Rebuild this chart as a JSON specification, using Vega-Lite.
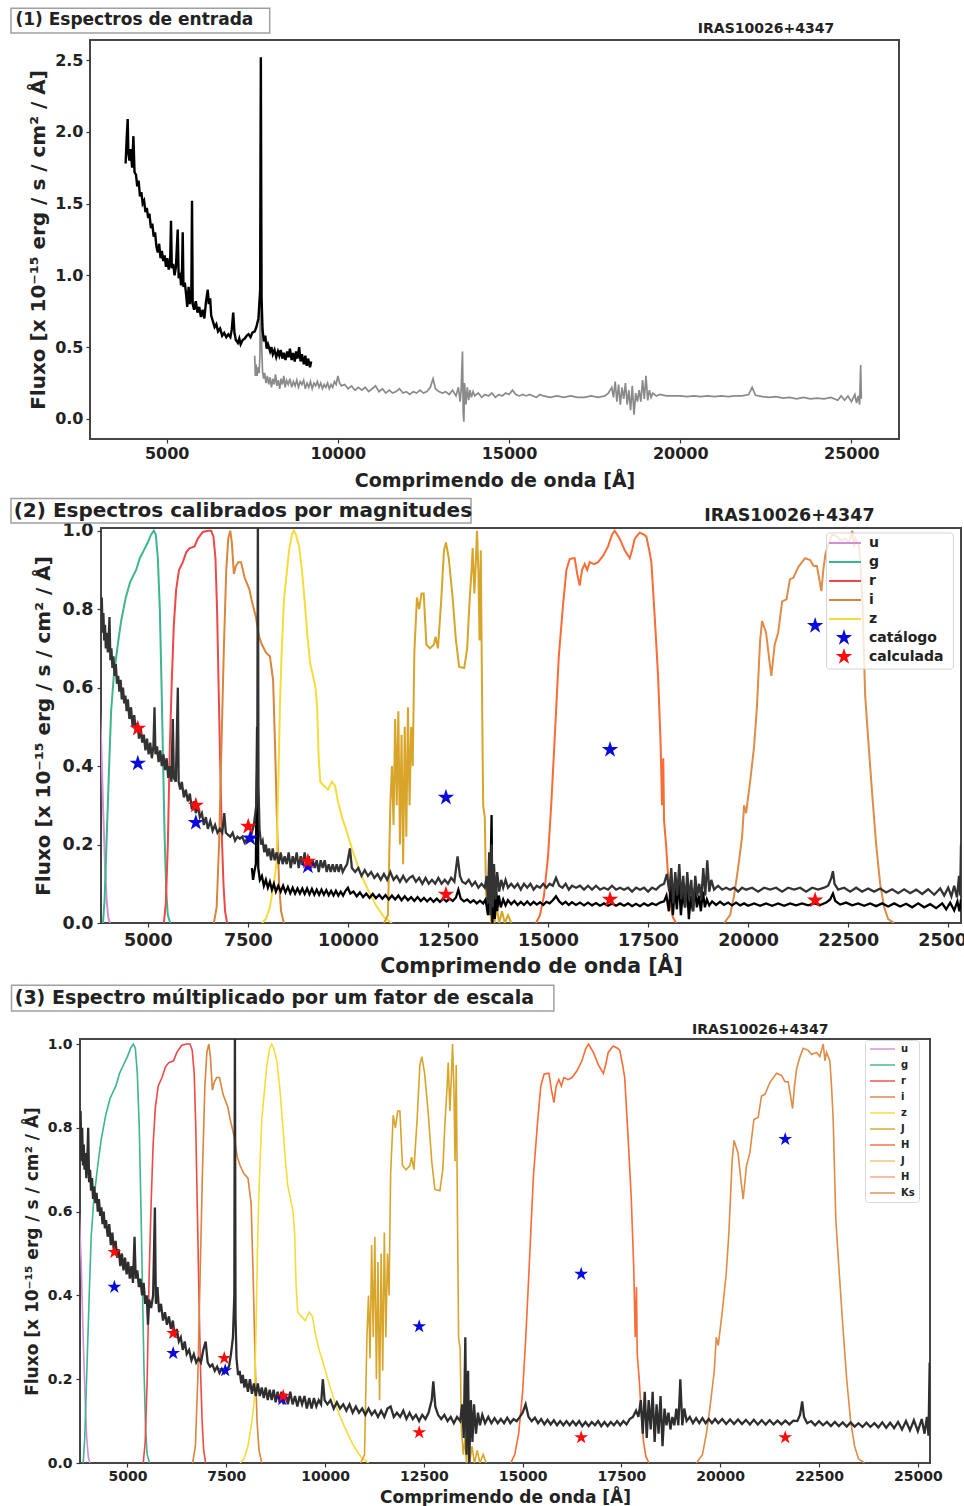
{
  "$schema": "https://vega.github.io/schema/vega-lite/v6.json",
  "padding": {"left": 8, "top": 6, "right": 0, "bottom": 0},
  "config": {
    "font": "DejaVu Sans",
    "view": {"stroke": "#454545", "strokeWidth": 2},
    "axis": {"grid": false, "domain": false, "labelFont": "DejaVu Sans", "labelFontWeight": "bold", "labelColor": "#222", "titleFont": "DejaVu Sans", "titleFontWeight": "bold", "titleColor": "#222", "tickColor": "#333", "tickSize": 4, "tickWidth": 1.2, "labelFlush": false},
    "legend": {"labelFont": "DejaVu Sans", "labelFontWeight": "bold", "labelColor": "#222"}
  },
  "spacing": 5,
  "vconcat": [
    {"spacing": 0, "hconcat": [
    {"width": 1, "height": 1, "view": {"stroke": null}, "data": {"values": [{}]}, "mark": {"type": "text", "text": ""}},
    {
      "width": 809, "height": 399,
      "layer": [
        {"data": {"name": "p1nir"}, "mark": {"type": "line", "color": "#8a8a8a", "strokeWidth": 1.7, "clip": true},
         "encoding": {
           "x": {"field": "w", "type": "quantitative", "scale": {"domain": [2760, 26390], "nice": false, "zero": false},
                 "axis": {"title": "Comprimendo de onda [Å]", "values": [5000, 10000, 15000, 20000, 25000], "format": "d", "labelFontSize": 16, "titleFontSize": 19, "labelPadding": 2, "titlePadding": 10}},
           "y": {"field": "f", "type": "quantitative", "scale": {"domain": [-0.14, 2.64], "nice": false, "zero": false},
                 "axis": {"title": "Fluxo [x 10⁻¹⁵ erg / s / cm² / Å]", "values": [0, 0.5, 1, 1.5, 2, 2.5], "format": ".1f", "labelFontSize": 16, "titleFontSize": 20, "labelPadding": 3, "titlePadding": 6}}
         }},
        {"data": {"name": "p1opt"}, "mark": {"type": "line", "color": "#000000", "strokeWidth": 2.4, "clip": true},
         "encoding": {"x": {"field": "w", "type": "quantitative"}, "y": {"field": "f", "type": "quantitative"}}},
        {"data": {"values": [{}]}, "mark": {"type": "rect", "fill": "white", "stroke": "#a0a0a0", "strokeWidth": 1.5},
         "encoding": {"x": {"datum": 452}, "x2": {"datum": 8009}, "y": {"datum": 2.861}, "y2": {"datum": 2.689}}},
        {"data": {"values": [{}]}, "mark": {"type": "text", "text": "(1) Espectros de entrada", "align": "left", "baseline": "alphabetic", "fontSize": 17, "fontWeight": "bold", "color": "#222"},
         "encoding": {"x": {"datum": 581}, "y": {"datum": 2.745}}},
        {"data": {"values": [{}]}, "mark": {"type": "text", "text": "IRAS10026+4347", "align": "center", "baseline": "alphabetic", "fontSize": 14, "fontWeight": "bold", "color": "#222"},
         "encoding": {"x": {"datum": 22505}, "y": {"datum": 2.692}}}
      ]
    }]},
    {"spacing": 0, "hconcat": [
    {"width": 1, "height": 1, "view": {"stroke": null}, "data": {"values": [{}]}, "mark": {"type": "text", "text": ""}},
    {
      "width": 860, "height": 395,
      "layer": [
        {"data": {"name": "filters"}, "mark": {"type": "line", "strokeWidth": 2, "clip": true},
         "encoding": {
           "x": {"field": "w", "type": "quantitative", "scale": {"domain": [3830, 25320], "nice": false, "zero": false},
                 "axis": {"title": "Comprimendo de onda [Å]", "values": [5000, 7500, 10000, 12500, 15000, 17500, 20000, 22500, 25000], "format": "d", "labelFontSize": 17.5, "titleFontSize": 20.5, "labelPadding": 4, "titlePadding": 8}},
           "y": {"field": "t", "type": "quantitative", "scale": {"domain": [0, 1.007], "nice": false, "zero": false},
                 "axis": {"title": "Fluxo [x 10⁻¹⁵ erg / s / cm² / Å]", "values": [0, 0.2, 0.4, 0.6, 0.8, 1.0], "format": ".1f", "labelFontSize": 17.5, "titleFontSize": 20, "labelPadding": 4, "titlePadding": 8}},
           "color": {"field": "b", "type": "nominal",
             "scale": {"domain": ["u","g","r","i","z","J","H","Ks"], "range": ["#d08fd8","#3db58e","#f04848","#d9853b","#f5dc3a","#d8a52a","#fa6b35","#df8c48"]},
             "legend": {"title": null, "orient": "none", "legendX": 818, "legendY": 496, "padding": 0,
               "values": ["u","g","r","i","z"],
               "labelFontSize": 14, "symbolSize": 64, "symbolStrokeWidth": 2, "symbolType": "M-1,0L7,0", "rowPadding": 5, "labelOffset": 29}},
           "detail": {"field": "b"}
         }},
        {"data": {"name": "p2low"}, "mark": {"type": "line", "color": "#000000", "strokeWidth": 2.3, "clip": true},
         "encoding": {"x": {"field": "w", "type": "quantitative"}, "y": {"field": "f", "type": "quantitative"}}},
        {"data": {"name": "p2up"}, "mark": {"type": "line", "color": "#333333", "strokeWidth": 2.3, "clip": true},
         "encoding": {"x": {"field": "w", "type": "quantitative"}, "y": {"field": "f", "type": "quantitative"}}},
        {"data": {"values": [{}]}, "mark": {"type": "rect", "fill": "white", "fillOpacity": 0.8, "stroke": "#d4d4d4", "strokeWidth": 1, "cornerRadius": 3},
         "encoding": {"x": {"datum": 21960}, "x2": {"datum": 25130}, "y": {"datum": 0.9943}, "y2": {"datum": 0.6475}}},
        {"data": {"name": "stars2"}, "mark": {"type": "point", "filled": true, "opacity": 1, "size": 300, "strokeWidth": 0, "clip": true},
         "encoding": {"x": {"field": "w", "type": "quantitative"}, "y": {"field": "f", "type": "quantitative"},
           "fill": {"field": "tipo", "type": "nominal", "scale": {"domain": ["catálogo","calculada"], "range": ["#0a0adf","#ff0a0a"]},
             "legend": {"title": null, "orient": "none", "legendX": 818, "legendY": 588.7, "padding": 0, "labelFontSize": 14, "symbolSize": 300, "symbolOffset": 9, "labelOffset": 16, "rowPadding": 2, "symbolStrokeWidth": 0}},
           "shape": {"field": "tipo", "type": "nominal", "scale": {"domain": ["catálogo","calculada"], "range": ["M0,-1L0.2245,-0.309L0.951,-0.309L0.3633,0.118L0.588,0.809L0,0.382L-0.588,0.809L-0.3633,0.118L-0.951,-0.309L-0.2245,-0.309Z","M0,-1L0.2245,-0.309L0.951,-0.309L0.3633,0.118L0.588,0.809L0,0.382L-0.588,0.809L-0.3633,0.118L-0.951,-0.309L-0.2245,-0.309Z"]},
             "legend": {"title": null, "orient": "none", "legendX": 818, "legendY": 588.7, "padding": 0, "labelFontSize": 14, "symbolSize": 300, "symbolOffset": 9, "labelOffset": 16, "rowPadding": 2, "symbolStrokeWidth": 0}}}},
        {"data": {"values": [{}]}, "mark": {"type": "rect", "fill": "white", "stroke": "#a0a0a0", "strokeWidth": 1.5},
         "encoding": {"x": {"datum": 1581}, "x2": {"datum": 13076}, "y": {"datum": 1.082}, "y2": {"datum": 1.02}}},
        {"data": {"values": [{}]}, "mark": {"type": "text", "text": "(2) Espectros calibrados por magnitudes", "align": "left", "baseline": "alphabetic", "fontSize": 20, "fontWeight": "bold", "color": "#222"},
         "encoding": {"x": {"datum": 1649}, "y": {"datum": 1.0345}}},
        {"data": {"values": [{}]}, "mark": {"type": "text", "text": "IRAS10026+4347", "align": "center", "baseline": "alphabetic", "fontSize": 17.5, "fontWeight": "bold", "color": "#222"},
         "encoding": {"x": {"datum": 21032}, "y": {"datum": 1.0256}}}
      ]
    }]},
    {"spacing": 0, "hconcat": [
    {"width": 1, "height": 1, "view": {"stroke": null}, "data": {"values": [{}]}, "mark": {"type": "text", "text": ""}},
    {
      "width": 850, "height": 424,
      "layer": [
        {"data": {"name": "filters"}, "mark": {"type": "line", "strokeWidth": 1.6, "clip": true},
         "encoding": {
           "x": {"field": "w", "type": "quantitative", "scale": {"domain": [3800, 25308], "nice": false, "zero": false},
                 "axis": {"title": "Comprimendo de onda [Å]", "values": [5000, 7500, 10000, 12500, 15000, 17500, 20000, 22500, 25000], "format": "d", "labelFontSize": 14, "titleFontSize": 17, "labelPadding": 2, "titlePadding": 6}},
           "y": {"field": "t", "type": "quantitative", "scale": {"domain": [0, 1.012], "nice": false, "zero": false},
                 "axis": {"title": "Fluxo [x 10⁻¹⁵ erg / s / cm² / Å]", "values": [0, 0.2, 0.4, 0.6, 0.8, 1.0], "format": ".1f", "labelFontSize": 14, "titleFontSize": 17, "labelPadding": 4, "titlePadding": 6}},
           "stroke": {"field": "b", "type": "nominal",
             "scale": {"domain": ["u","g","r","i","z","J","H","J2","H2","Ks"], "range": ["#d08fd8","#3db58e","#f04848","#d9853b","#f5dc3a","#d8a52a","#fa6b35","#e8c96a","#ffa07a","#df8c48"]},
             "legend": {"title": null, "orient": "none", "legendX": 857, "legendY": 1000,
               "values": ["u","g","r","i","z","J","H","J2","H2","Ks"],
               "labelExpr": "datum.label == 'J2' ? 'J' : datum.label == 'H2' ? 'H' : datum.label",
               "fillColor": "rgba(255,255,255,0.85)", "strokeColor": "#d8d8d8", "cornerRadius": 3, "padding": 4,
               "labelFontSize": 10, "symbolSize": 64, "symbolStrokeWidth": 2, "symbolType": "M-1,0L5.25,0", "rowPadding": 6, "labelOffset": 22, "symbolOpacity": 0.7}},
           "detail": {"field": "b"}
         }},
        {"data": {"name": "p3"}, "mark": {"type": "line", "color": "#2e2e2e", "strokeWidth": 2.3, "clip": true},
         "encoding": {"x": {"field": "w", "type": "quantitative"}, "y": {"field": "f", "type": "quantitative"}}},
        {"data": {"name": "stars3"}, "mark": {"type": "point", "filled": true, "opacity": 1, "size": 210, "strokeWidth": 0, "clip": true},
         "encoding": {"x": {"field": "w", "type": "quantitative"}, "y": {"field": "f", "type": "quantitative"},
           "fill": {"field": "tipo", "type": "nominal", "scale": {"domain": ["catálogo","calculada"], "range": ["#0a0adf","#ff0a0a"]}, "legend": null},
           "shape": {"field": "tipo", "type": "nominal", "scale": {"domain": ["catálogo","calculada"], "range": ["M0,-1L0.2245,-0.309L0.951,-0.309L0.3633,0.118L0.588,0.809L0,0.382L-0.588,0.809L-0.3633,0.118L-0.951,-0.309L-0.2245,-0.309Z","M0,-1L0.2245,-0.309L0.951,-0.309L0.3633,0.118L0.588,0.809L0,0.382L-0.588,0.809L-0.3633,0.118L-0.951,-0.309L-0.2245,-0.309Z"]}, "legend": null}}},
        {"data": {"values": [{}]}, "mark": {"type": "rect", "fill": "white", "stroke": "#a0a0a0", "strokeWidth": 1.5},
         "encoding": {"x": {"datum": 2067}, "x2": {"datum": 15791}, "y": {"datum": 1.14}, "y2": {"datum": 1.079}}},
        {"data": {"values": [{}]}, "mark": {"type": "text", "text": "(3) Espectro múltiplicado por um fator de escala", "align": "left", "baseline": "alphabetic", "fontSize": 19, "fontWeight": "bold", "color": "#222"},
         "encoding": {"x": {"datum": 2148}, "y": {"datum": 1.095}}},
        {"data": {"values": [{}]}, "mark": {"type": "text", "text": "IRAS10026+4347", "align": "center", "baseline": "alphabetic", "fontSize": 14, "fontWeight": "bold", "color": "#222"},
         "encoding": {"x": {"datum": 21012}, "y": {"datum": 1.0247}}}
      ]
    }]}
  ],
  "datasets": {
    "p1opt": [{"w":3800,"f":1.78},{"w":3830,"f":1.95},{"w":3861,"f":2.09},{"w":3880,"f":1.85},{"w":3911,"f":1.8},{"w":3950,"f":1.88},{"w":3990,"f":1.75},{"w":4028,"f":1.97},{"w":4060,"f":1.72},{"w":4104,"f":1.7},{"w":4140,"f":1.62},{"w":4180,"f":1.66},{"w":4220,"f":1.55},{"w":4260,"f":1.58},{"w":4299,"f":1.5},{"w":4340,"f":1.52},{"w":4380,"f":1.44},{"w":4420,"f":1.47},{"w":4460,"f":1.4},{"w":4495,"f":1.43},{"w":4540,"f":1.33},{"w":4580,"f":1.36},{"w":4620,"f":1.27},{"w":4660,"f":1.3},{"w":4700,"f":1.2},{"w":4740,"f":1.16},{"w":4780,"f":1.22},{"w":4820,"f":1.12},{"w":4860,"f":1.17},{"w":4900,"f":1.1},{"w":4940,"f":1.14},{"w":4980,"f":1.06},{"w":5020,"f":1.12},{"w":5060,"f":1.04},{"w":5100,"f":1.09},{"w":5126,"f":1.38},{"w":5150,"f":1.05},{"w":5190,"f":1.08},{"w":5230,"f":1.0},{"w":5270,"f":1.06},{"w":5322,"f":1.32},{"w":5350,"f":0.98},{"w":5390,"f":1.02},{"w":5420,"f":0.93},{"w":5450,"f":1.05},{"w":5468,"f":1.3},{"w":5490,"f":0.92},{"w":5530,"f":0.95},{"w":5570,"f":0.86},{"w":5600,"f":0.78},{"w":5640,"f":0.92},{"w":5680,"f":0.8},{"w":5720,"f":0.88},{"w":5740,"f":1.52},{"w":5760,"f":0.8},{"w":5800,"f":0.76},{"w":5850,"f":0.82},{"w":5900,"f":0.74},{"w":5950,"f":0.78},{"w":6000,"f":0.71},{"w":6050,"f":0.76},{"w":6100,"f":0.7},{"w":6150,"f":0.82},{"w":6200,"f":0.9},{"w":6230,"f":0.8},{"w":6270,"f":0.84},{"w":6300,"f":0.72},{"w":6350,"f":0.68},{"w":6400,"f":0.64},{"w":6450,"f":0.66},{"w":6500,"f":0.61},{"w":6560,"f":0.63},{"w":6620,"f":0.58},{"w":6680,"f":0.6},{"w":6740,"f":0.57},{"w":6800,"f":0.59},{"w":6860,"f":0.57},{"w":6900,"f":0.62},{"w":6943,"f":0.74},{"w":6980,"f":0.6},{"w":7020,"f":0.55},{"w":7080,"f":0.53},{"w":7121,"f":0.56},{"w":7160,"f":0.52},{"w":7220,"f":0.55},{"w":7280,"f":0.56},{"w":7340,"f":0.58},{"w":7393,"f":0.59},{"w":7450,"f":0.57},{"w":7500,"f":0.6},{"w":7571,"f":0.61},{"w":7620,"f":0.64},{"w":7680,"f":0.7},{"w":7730,"f":0.9},{"w":7750,"f":2.52},{"w":7770,"f":0.85},{"w":7800,"f":0.62},{"w":7840,"f":0.54},{"w":7880,"f":0.58},{"w":7920,"f":0.49},{"w":7960,"f":0.52},{"w":8021,"f":0.47},{"w":8060,"f":0.5},{"w":8100,"f":0.45},{"w":8150,"f":0.48},{"w":8200,"f":0.43},{"w":8250,"f":0.47},{"w":8290,"f":0.44},{"w":8330,"f":0.48},{"w":8380,"f":0.42},{"w":8420,"f":0.46},{"w":8470,"f":0.41},{"w":8520,"f":0.47},{"w":8560,"f":0.43},{"w":8600,"f":0.49},{"w":8649,"f":0.41},{"w":8690,"f":0.46},{"w":8740,"f":0.4},{"w":8780,"f":0.47},{"w":8820,"f":0.42},{"w":8870,"f":0.5},{"w":8910,"f":0.4},{"w":8950,"f":0.45},{"w":9008,"f":0.38},{"w":9050,"f":0.44},{"w":9090,"f":0.37},{"w":9130,"f":0.42},{"w":9186,"f":0.36},{"w":9220,"f":0.4}],
    "p1nir": [{"w":7570,"f":0.44},{"w":7590,"f":0.3},{"w":7610,"f":0.38},{"w":7640,"f":0.3},{"w":7670,"f":0.36},{"w":7700,"f":0.32},{"w":7725,"f":0.45},{"w":7750,"f":2.25},{"w":7775,"f":0.5},{"w":7800,"f":0.33},{"w":7830,"f":0.28},{"w":7860,"f":0.32},{"w":7900,"f":0.25},{"w":7940,"f":0.3},{"w":7980,"f":0.24},{"w":8020,"f":0.29},{"w":8060,"f":0.22},{"w":8100,"f":0.28},{"w":8140,"f":0.24},{"w":8180,"f":0.31},{"w":8220,"f":0.23},{"w":8260,"f":0.27},{"w":8300,"f":0.21},{"w":8340,"f":0.28},{"w":8380,"f":0.24},{"w":8420,"f":0.3},{"w":8460,"f":0.22},{"w":8500,"f":0.27},{"w":8550,"f":0.24},{"w":8600,"f":0.28},{"w":8650,"f":0.22},{"w":8700,"f":0.26},{"w":8750,"f":0.23},{"w":8800,"f":0.27},{"w":8850,"f":0.22},{"w":8900,"f":0.26},{"w":8950,"f":0.24},{"w":9000,"f":0.27},{"w":9050,"f":0.21},{"w":9100,"f":0.25},{"w":9150,"f":0.22},{"w":9200,"f":0.26},{"w":9250,"f":0.21},{"w":9300,"f":0.25},{"w":9350,"f":0.23},{"w":9400,"f":0.26},{"w":9450,"f":0.22},{"w":9500,"f":0.25},{"w":9550,"f":0.21},{"w":9600,"f":0.24},{"w":9650,"f":0.22},{"w":9700,"f":0.25},{"w":9750,"f":0.21},{"w":9800,"f":0.24},{"w":9850,"f":0.22},{"w":9900,"f":0.26},{"w":9950,"f":0.24},{"w":10000,"f":0.3},{"w":10050,"f":0.25},{"w":10100,"f":0.23},{"w":10200,"f":0.24},{"w":10300,"f":0.21},{"w":10400,"f":0.23},{"w":10500,"f":0.2},{"w":10600,"f":0.22},{"w":10700,"f":0.2},{"w":10800,"f":0.22},{"w":10900,"f":0.19},{"w":11000,"f":0.21},{"w":11100,"f":0.23},{"w":11200,"f":0.19},{"w":11300,"f":0.21},{"w":11400,"f":0.18},{"w":11500,"f":0.2},{"w":11600,"f":0.18},{"w":11700,"f":0.19},{"w":11800,"f":0.21},{"w":11900,"f":0.18},{"w":12000,"f":0.19},{"w":12100,"f":0.17},{"w":12200,"f":0.19},{"w":12300,"f":0.18},{"w":12400,"f":0.2},{"w":12500,"f":0.18},{"w":12600,"f":0.19},{"w":12700,"f":0.22},{"w":12780,"f":0.28},{"w":12850,"f":0.21},{"w":12950,"f":0.19},{"w":13050,"f":0.18},{"w":13150,"f":0.19},{"w":13250,"f":0.17},{"w":13350,"f":0.2},{"w":13450,"f":0.16},{"w":13520,"f":0.22},{"w":13570,"f":0.12},{"w":13600,"f":0.2},{"w":13640,"f":0.47},{"w":13660,"f":0.05},{"w":13680,"f":-0.02},{"w":13700,"f":0.25},{"w":13740,"f":0.1},{"w":13780,"f":0.22},{"w":13820,"f":0.13},{"w":13860,"f":0.2},{"w":13900,"f":0.15},{"w":13950,"f":0.19},{"w":14000,"f":0.16},{"w":14100,"f":0.18},{"w":14200,"f":0.15},{"w":14300,"f":0.17},{"w":14400,"f":0.16},{"w":14500,"f":0.18},{"w":14600,"f":0.15},{"w":14700,"f":0.17},{"w":14800,"f":0.16},{"w":14900,"f":0.18},{"w":15000,"f":0.17},{"w":15100,"f":0.2},{"w":15200,"f":0.17},{"w":15300,"f":0.16},{"w":15400,"f":0.17},{"w":15500,"f":0.16},{"w":15600,"f":0.17},{"w":15700,"f":0.16},{"w":15800,"f":0.15},{"w":15900,"f":0.17},{"w":16000,"f":0.16},{"w":16200,"f":0.15},{"w":16400,"f":0.16},{"w":16600,"f":0.15},{"w":16800,"f":0.16},{"w":17000,"f":0.15},{"w":17200,"f":0.15},{"w":17400,"f":0.16},{"w":17600,"f":0.15},{"w":17800,"f":0.16},{"w":17900,"f":0.18},{"w":18000,"f":0.22},{"w":18050,"f":0.15},{"w":18100,"f":0.26},{"w":18150,"f":0.12},{"w":18200,"f":0.24},{"w":18250,"f":0.1},{"w":18300,"f":0.22},{"w":18350,"f":0.14},{"w":18400,"f":0.25},{"w":18450,"f":0.1},{"w":18500,"f":0.2},{"w":18550,"f":0.06},{"w":18600,"f":0.23},{"w":18650,"f":0.03},{"w":18700,"f":0.18},{"w":18750,"f":0.12},{"w":18800,"f":0.2},{"w":18850,"f":0.12},{"w":18900,"f":0.27},{"w":18950,"f":0.14},{"w":19000,"f":0.3},{"w":19050,"f":0.13},{"w":19100,"f":0.2},{"w":19150,"f":0.15},{"w":19200,"f":0.18},{"w":19300,"f":0.16},{"w":19400,"f":0.17},{"w":19600,"f":0.16},{"w":19800,"f":0.16},{"w":20000,"f":0.16},{"w":20200,"f":0.155},{"w":20400,"f":0.16},{"w":20600,"f":0.155},{"w":20800,"f":0.16},{"w":21000,"f":0.155},{"w":21200,"f":0.16},{"w":21400,"f":0.155},{"w":21600,"f":0.16},{"w":21800,"f":0.16},{"w":22000,"f":0.17},{"w":22100,"f":0.22},{"w":22200,"f":0.165},{"w":22400,"f":0.155},{"w":22600,"f":0.15},{"w":22800,"f":0.155},{"w":23000,"f":0.145},{"w":23200,"f":0.15},{"w":23400,"f":0.14},{"w":23600,"f":0.15},{"w":23800,"f":0.14},{"w":24000,"f":0.145},{"w":24200,"f":0.14},{"w":24400,"f":0.15},{"w":24600,"f":0.13},{"w":24700,"f":0.16},{"w":24800,"f":0.13},{"w":24900,"f":0.16},{"w":25000,"f":0.12},{"w":25100,"f":0.17},{"w":25150,"f":0.11},{"w":25200,"f":0.16},{"w":25240,"f":0.1},{"w":25270,"f":0.375},{"w":25290,"f":0.14}],
    "p2up": [{"w":3835,"f":0.78},{"w":3850,"f":0.83},{"w":3870,"f":0.74},{"w":3890,"f":0.79},{"w":3910,"f":0.72},{"w":3930,"f":0.76},{"w":3950,"f":0.7},{"w":3975,"f":0.74},{"w":4000,"f":0.69},{"w":4020,"f":0.72},{"w":4042,"f":0.78},{"w":4065,"f":0.67},{"w":4090,"f":0.7},{"w":4115,"f":0.65},{"w":4140,"f":0.68},{"w":4170,"f":0.63},{"w":4200,"f":0.66},{"w":4230,"f":0.61},{"w":4260,"f":0.63},{"w":4290,"f":0.59},{"w":4320,"f":0.62},{"w":4350,"f":0.57},{"w":4380,"f":0.6},{"w":4410,"f":0.56},{"w":4440,"f":0.58},{"w":4470,"f":0.54},{"w":4500,"f":0.57},{"w":4540,"f":0.52},{"w":4580,"f":0.55},{"w":4620,"f":0.5},{"w":4660,"f":0.53},{"w":4700,"f":0.49},{"w":4740,"f":0.51},{"w":4780,"f":0.47},{"w":4820,"f":0.5},{"w":4860,"f":0.46},{"w":4900,"f":0.48},{"w":4940,"f":0.44},{"w":4980,"f":0.47},{"w":5020,"f":0.43},{"w":5060,"f":0.46},{"w":5100,"f":0.42},{"w":5140,"f":0.45},{"w":5167,"f":0.55},{"w":5190,"f":0.43},{"w":5230,"f":0.45},{"w":5270,"f":0.41},{"w":5310,"f":0.44},{"w":5350,"f":0.4},{"w":5390,"f":0.43},{"w":5430,"f":0.39},{"w":5470,"f":0.42},{"w":5510,"f":0.37},{"w":5550,"f":0.4},{"w":5590,"f":0.36},{"w":5625,"f":0.52},{"w":5650,"f":0.37},{"w":5700,"f":0.36},{"w":5750,"f":0.6},{"w":5770,"f":0.36},{"w":5810,"f":0.34},{"w":5850,"f":0.36},{"w":5900,"f":0.32},{"w":5950,"f":0.34},{"w":6000,"f":0.31},{"w":6050,"f":0.33},{"w":6100,"f":0.29},{"w":6150,"f":0.31},{"w":6200,"f":0.28},{"w":6250,"f":0.3},{"w":6300,"f":0.27},{"w":6350,"f":0.28},{"w":6400,"f":0.25},{"w":6450,"f":0.27},{"w":6500,"f":0.24},{"w":6560,"f":0.26},{"w":6620,"f":0.235},{"w":6680,"f":0.25},{"w":6740,"f":0.23},{"w":6800,"f":0.24},{"w":6860,"f":0.23},{"w":6910,"f":0.28},{"w":6950,"f":0.23},{"w":7000,"f":0.225},{"w":7060,"f":0.22},{"w":7120,"f":0.23},{"w":7180,"f":0.21},{"w":7240,"f":0.22},{"w":7300,"f":0.215},{"w":7360,"f":0.22},{"w":7420,"f":0.205},{"w":7480,"f":0.215},{"w":7540,"f":0.21},{"w":7600,"f":0.23},{"w":7650,"f":0.25},{"w":7710,"f":0.3},{"w":7735,"f":0.4},{"w":7750,"f":1.05},{"w":7765,"f":0.35},{"w":7790,"f":0.24},{"w":7830,"f":0.2},{"w":7870,"f":0.21},{"w":7910,"f":0.18},{"w":7950,"f":0.2},{"w":7990,"f":0.17},{"w":8030,"f":0.19},{"w":8080,"f":0.16},{"w":8120,"f":0.19},{"w":8170,"f":0.16},{"w":8220,"f":0.18},{"w":8270,"f":0.15},{"w":8320,"f":0.18},{"w":8370,"f":0.15},{"w":8420,"f":0.17},{"w":8470,"f":0.15},{"w":8520,"f":0.18},{"w":8570,"f":0.14},{"w":8620,"f":0.17},{"w":8670,"f":0.15},{"w":8720,"f":0.18},{"w":8770,"f":0.14},{"w":8820,"f":0.17},{"w":8870,"f":0.15},{"w":8920,"f":0.18},{"w":8970,"f":0.14},{"w":9020,"f":0.17},{"w":9070,"f":0.14},{"w":9120,"f":0.16},{"w":9170,"f":0.14},{"w":9220,"f":0.16},{"w":9270,"f":0.13},{"w":9320,"f":0.16},{"w":9370,"f":0.14},{"w":9420,"f":0.16},{"w":9470,"f":0.13},{"w":9520,"f":0.15},{"w":9570,"f":0.13},{"w":9620,"f":0.15},{"w":9670,"f":0.13},{"w":9720,"f":0.15},{"w":9770,"f":0.13},{"w":9820,"f":0.15},{"w":9870,"f":0.13},{"w":9920,"f":0.14},{"w":9980,"f":0.15},{"w":10050,"f":0.19},{"w":10100,"f":0.14},{"w":10180,"f":0.13},{"w":10260,"f":0.14},{"w":10340,"f":0.12},{"w":10420,"f":0.135},{"w":10500,"f":0.12},{"w":10580,"f":0.13},{"w":10660,"f":0.115},{"w":10740,"f":0.125},{"w":10820,"f":0.11},{"w":10900,"f":0.125},{"w":10980,"f":0.11},{"w":11060,"f":0.13},{"w":11140,"f":0.11},{"w":11220,"f":0.12},{"w":11300,"f":0.105},{"w":11380,"f":0.12},{"w":11460,"f":0.105},{"w":11540,"f":0.115},{"w":11620,"f":0.12},{"w":11700,"f":0.105},{"w":11780,"f":0.115},{"w":11860,"f":0.1},{"w":11940,"f":0.115},{"w":12020,"f":0.1},{"w":12100,"f":0.11},{"w":12180,"f":0.1},{"w":12260,"f":0.115},{"w":12340,"f":0.1},{"w":12420,"f":0.11},{"w":12500,"f":0.1},{"w":12580,"f":0.115},{"w":12660,"f":0.105},{"w":12740,"f":0.17},{"w":12800,"f":0.12},{"w":12860,"f":0.105},{"w":12940,"f":0.1},{"w":13020,"f":0.11},{"w":13100,"f":0.095},{"w":13180,"f":0.105},{"w":13260,"f":0.09},{"w":13340,"f":0.1},{"w":13420,"f":0.09},{"w":13470,"f":0.12},{"w":13500,"f":0.05},{"w":13530,"f":0.18},{"w":13560,"f":0.02},{"w":13590,"f":0.2},{"w":13620,"f":0.04},{"w":13650,"f":0.15},{"w":13690,"f":0.06},{"w":13730,"f":0.13},{"w":13780,"f":0.08},{"w":13830,"f":0.11},{"w":13880,"f":0.09},{"w":13940,"f":0.11},{"w":14000,"f":0.09},{"w":14080,"f":0.1},{"w":14160,"f":0.09},{"w":14240,"f":0.1},{"w":14320,"f":0.085},{"w":14400,"f":0.1},{"w":14480,"f":0.09},{"w":14560,"f":0.1},{"w":14640,"f":0.085},{"w":14720,"f":0.095},{"w":14800,"f":0.09},{"w":14880,"f":0.1},{"w":14960,"f":0.09},{"w":15040,"f":0.1},{"w":15120,"f":0.095},{"w":15200,"f":0.115},{"w":15280,"f":0.095},{"w":15360,"f":0.09},{"w":15440,"f":0.1},{"w":15520,"f":0.085},{"w":15600,"f":0.095},{"w":15700,"f":0.09},{"w":15800,"f":0.095},{"w":15900,"f":0.085},{"w":16000,"f":0.095},{"w":16100,"f":0.085},{"w":16200,"f":0.095},{"w":16300,"f":0.085},{"w":16400,"f":0.09},{"w":16500,"f":0.085},{"w":16600,"f":0.095},{"w":16700,"f":0.085},{"w":16800,"f":0.09},{"w":16900,"f":0.085},{"w":17000,"f":0.09},{"w":17100,"f":0.08},{"w":17200,"f":0.09},{"w":17300,"f":0.085},{"w":17400,"f":0.09},{"w":17500,"f":0.08},{"w":17600,"f":0.09},{"w":17700,"f":0.085},{"w":17800,"f":0.095},{"w":17900,"f":0.1},{"w":17970,"f":0.125},{"w":18030,"f":0.08},{"w":18080,"f":0.14},{"w":18130,"f":0.05},{"w":18180,"f":0.13},{"w":18230,"f":0.07},{"w":18280,"f":0.15},{"w":18330,"f":0.06},{"w":18380,"f":0.12},{"w":18430,"f":0.04},{"w":18480,"f":0.13},{"w":18530,"f":0.06},{"w":18580,"f":0.11},{"w":18630,"f":0.03},{"w":18680,"f":0.12},{"w":18730,"f":0.07},{"w":18780,"f":0.1},{"w":18830,"f":0.06},{"w":18880,"f":0.14},{"w":18930,"f":0.07},{"w":18980,"f":0.16},{"w":19030,"f":0.08},{"w":19080,"f":0.11},{"w":19150,"f":0.085},{"w":19250,"f":0.095},{"w":19350,"f":0.085},{"w":19450,"f":0.09},{"w":19550,"f":0.085},{"w":19650,"f":0.09},{"w":19750,"f":0.08},{"w":19850,"f":0.09},{"w":19950,"f":0.085},{"w":20100,"f":0.09},{"w":20250,"f":0.08},{"w":20400,"f":0.09},{"w":20550,"f":0.085},{"w":20700,"f":0.09},{"w":20850,"f":0.08},{"w":21000,"f":0.09},{"w":21150,"f":0.085},{"w":21300,"f":0.09},{"w":21450,"f":0.08},{"w":21600,"f":0.09},{"w":21750,"f":0.085},{"w":21900,"f":0.09},{"w":22000,"f":0.095},{"w":22080,"f":0.115},{"w":22120,"f":0.132},{"w":22160,"f":0.1},{"w":22250,"f":0.085},{"w":22400,"f":0.09},{"w":22550,"f":0.08},{"w":22700,"f":0.09},{"w":22850,"f":0.08},{"w":23000,"f":0.088},{"w":23150,"f":0.08},{"w":23300,"f":0.088},{"w":23450,"f":0.078},{"w":23600,"f":0.086},{"w":23750,"f":0.076},{"w":23900,"f":0.086},{"w":24050,"f":0.076},{"w":24200,"f":0.085},{"w":24350,"f":0.074},{"w":24500,"f":0.086},{"w":24650,"f":0.072},{"w":24800,"f":0.088},{"w":24900,"f":0.07},{"w":25000,"f":0.09},{"w":25080,"f":0.068},{"w":25150,"f":0.095},{"w":25220,"f":0.065},{"w":25270,"f":0.12},{"w":25300,"f":0.07},{"w":25320,"f":0.2}],
    "p2low": [{"w":7600,"f":0.14},{"w":7630,"f":0.11},{"w":7660,"f":0.13},{"w":7700,"f":0.15},{"w":7730,"f":0.5},{"w":7760,"f":0.14},{"w":7800,"f":0.11},{"w":7850,"f":0.12},{"w":7900,"f":0.095},{"w":7950,"f":0.11},{"w":8000,"f":0.09},{"w":8050,"f":0.105},{"w":8100,"f":0.085},{"w":8150,"f":0.1},{"w":8200,"f":0.08},{"w":8260,"f":0.095},{"w":8320,"f":0.08},{"w":8380,"f":0.095},{"w":8440,"f":0.078},{"w":8500,"f":0.092},{"w":8560,"f":0.076},{"w":8620,"f":0.09},{"w":8680,"f":0.075},{"w":8740,"f":0.088},{"w":8800,"f":0.075},{"w":8860,"f":0.088},{"w":8920,"f":0.074},{"w":8980,"f":0.088},{"w":9040,"f":0.073},{"w":9100,"f":0.087},{"w":9160,"f":0.072},{"w":9220,"f":0.085},{"w":9280,"f":0.072},{"w":9340,"f":0.085},{"w":9400,"f":0.072},{"w":9460,"f":0.084},{"w":9520,"f":0.071},{"w":9580,"f":0.082},{"w":9640,"f":0.07},{"w":9700,"f":0.082},{"w":9760,"f":0.07},{"w":9820,"f":0.08},{"w":9880,"f":0.07},{"w":9940,"f":0.082},{"w":10000,"f":0.09},{"w":10060,"f":0.075},{"w":10140,"f":0.08},{"w":10220,"f":0.068},{"w":10300,"f":0.078},{"w":10380,"f":0.066},{"w":10460,"f":0.075},{"w":10540,"f":0.064},{"w":10620,"f":0.074},{"w":10700,"f":0.063},{"w":10780,"f":0.072},{"w":10860,"f":0.062},{"w":10940,"f":0.071},{"w":11020,"f":0.06},{"w":11100,"f":0.07},{"w":11180,"f":0.06},{"w":11260,"f":0.07},{"w":11340,"f":0.058},{"w":11420,"f":0.068},{"w":11500,"f":0.058},{"w":11580,"f":0.066},{"w":11660,"f":0.056},{"w":11740,"f":0.066},{"w":11820,"f":0.056},{"w":11900,"f":0.064},{"w":11980,"f":0.055},{"w":12060,"f":0.063},{"w":12140,"f":0.054},{"w":12220,"f":0.062},{"w":12300,"f":0.054},{"w":12380,"f":0.062},{"w":12460,"f":0.055},{"w":12540,"f":0.062},{"w":12620,"f":0.056},{"w":12700,"f":0.065},{"w":12760,"f":0.085},{"w":12820,"f":0.062},{"w":12900,"f":0.055},{"w":12980,"f":0.06},{"w":13060,"f":0.052},{"w":13140,"f":0.058},{"w":13220,"f":0.05},{"w":13300,"f":0.057},{"w":13380,"f":0.05},{"w":13440,"f":0.06},{"w":13500,"f":0.02},{"w":13560,"f":0.1},{"w":13590,"f":0.275},{"w":13610,"f":0.0},{"w":13640,"f":0.15},{"w":13670,"f":0.01},{"w":13700,"f":0.1},{"w":13730,"f":0.03},{"w":13770,"f":0.07},{"w":13820,"f":0.04},{"w":13880,"f":0.06},{"w":13940,"f":0.045},{"w":14000,"f":0.058},{"w":14080,"f":0.048},{"w":14160,"f":0.056},{"w":14240,"f":0.046},{"w":14320,"f":0.054},{"w":14400,"f":0.046},{"w":14480,"f":0.055},{"w":14560,"f":0.046},{"w":14640,"f":0.054},{"w":14720,"f":0.047},{"w":14800,"f":0.053},{"w":14880,"f":0.046},{"w":14960,"f":0.054},{"w":15040,"f":0.05},{"w":15120,"f":0.058},{"w":15200,"f":0.068},{"w":15280,"f":0.055},{"w":15360,"f":0.048},{"w":15440,"f":0.054},{"w":15520,"f":0.046},{"w":15600,"f":0.053},{"w":15700,"f":0.046},{"w":15800,"f":0.052},{"w":15900,"f":0.045},{"w":16000,"f":0.052},{"w":16100,"f":0.045},{"w":16200,"f":0.051},{"w":16300,"f":0.044},{"w":16400,"f":0.05},{"w":16500,"f":0.044},{"w":16600,"f":0.05},{"w":16700,"f":0.044},{"w":16800,"f":0.05},{"w":16900,"f":0.044},{"w":17000,"f":0.05},{"w":17100,"f":0.043},{"w":17200,"f":0.049},{"w":17300,"f":0.043},{"w":17400,"f":0.05},{"w":17500,"f":0.044},{"w":17600,"f":0.05},{"w":17700,"f":0.046},{"w":17800,"f":0.052},{"w":17900,"f":0.055},{"w":17960,"f":0.07},{"w":18020,"f":0.03},{"w":18070,"f":0.1},{"w":18120,"f":0.02},{"w":18170,"f":0.09},{"w":18220,"f":0.035},{"w":18270,"f":0.11},{"w":18320,"f":0.02},{"w":18370,"f":0.08},{"w":18420,"f":0.04},{"w":18470,"f":0.1},{"w":18520,"f":0.01},{"w":18570,"f":0.07},{"w":18620,"f":0.03},{"w":18670,"f":0.09},{"w":18720,"f":0.04},{"w":18770,"f":0.07},{"w":18820,"f":0.03},{"w":18870,"f":0.08},{"w":18920,"f":0.04},{"w":18970,"f":0.06},{"w":19030,"f":0.045},{"w":19100,"f":0.055},{"w":19200,"f":0.046},{"w":19300,"f":0.054},{"w":19400,"f":0.046},{"w":19500,"f":0.052},{"w":19600,"f":0.045},{"w":19700,"f":0.052},{"w":19800,"f":0.045},{"w":19900,"f":0.05},{"w":20000,"f":0.044},{"w":20150,"f":0.05},{"w":20300,"f":0.044},{"w":20450,"f":0.05},{"w":20600,"f":0.044},{"w":20750,"f":0.05},{"w":20900,"f":0.044},{"w":21050,"f":0.05},{"w":21200,"f":0.045},{"w":21350,"f":0.05},{"w":21500,"f":0.045},{"w":21650,"f":0.05},{"w":21800,"f":0.046},{"w":21950,"f":0.052},{"w":22050,"f":0.06},{"w":22120,"f":0.075},{"w":22180,"f":0.056},{"w":22300,"f":0.047},{"w":22450,"f":0.052},{"w":22600,"f":0.045},{"w":22750,"f":0.05},{"w":22900,"f":0.044},{"w":23050,"f":0.05},{"w":23200,"f":0.043},{"w":23350,"f":0.05},{"w":23500,"f":0.042},{"w":23650,"f":0.05},{"w":23800,"f":0.042},{"w":23950,"f":0.049},{"w":24100,"f":0.04},{"w":24250,"f":0.05},{"w":24400,"f":0.04},{"w":24550,"f":0.048},{"w":24700,"f":0.038},{"w":24850,"f":0.05},{"w":24950,"f":0.035},{"w":25050,"f":0.052},{"w":25150,"f":0.032},{"w":25230,"f":0.055},{"w":25280,"f":0.03},{"w":25320,"f":0.06}],
    "p3": [{"w":3800,"f":0.75},{"w":3815,"f":0.84},{"w":3835,"f":0.72},{"w":3855,"f":0.8},{"w":3875,"f":0.71},{"w":3895,"f":0.76},{"w":3915,"f":0.7},{"w":3935,"f":0.74},{"w":3960,"f":0.68},{"w":3985,"f":0.72},{"w":4007,"f":0.8},{"w":4030,"f":0.67},{"w":4055,"f":0.7},{"w":4080,"f":0.65},{"w":4105,"f":0.68},{"w":4130,"f":0.63},{"w":4160,"f":0.66},{"w":4190,"f":0.62},{"w":4220,"f":0.645},{"w":4250,"f":0.6},{"w":4280,"f":0.63},{"w":4310,"f":0.59},{"w":4340,"f":0.61},{"w":4370,"f":0.57},{"w":4400,"f":0.6},{"w":4430,"f":0.56},{"w":4460,"f":0.58},{"w":4500,"f":0.54},{"w":4540,"f":0.57},{"w":4580,"f":0.52},{"w":4620,"f":0.55},{"w":4660,"f":0.5},{"w":4700,"f":0.53},{"w":4740,"f":0.49},{"w":4780,"f":0.51},{"w":4820,"f":0.47},{"w":4860,"f":0.5},{"w":4900,"f":0.46},{"w":4940,"f":0.49},{"w":4980,"f":0.45},{"w":5020,"f":0.48},{"w":5060,"f":0.44},{"w":5100,"f":0.47},{"w":5140,"f":0.43},{"w":5180,"f":0.54},{"w":5210,"f":0.44},{"w":5250,"f":0.46},{"w":5290,"f":0.42},{"w":5330,"f":0.44},{"w":5370,"f":0.4},{"w":5410,"f":0.43},{"w":5450,"f":0.38},{"w":5490,"f":0.4},{"w":5520,"f":0.33},{"w":5550,"f":0.39},{"w":5600,"f":0.37},{"w":5650,"f":0.4},{"w":5695,"f":0.61},{"w":5720,"f":0.38},{"w":5760,"f":0.42},{"w":5800,"f":0.36},{"w":5850,"f":0.38},{"w":5900,"f":0.34},{"w":5950,"f":0.36},{"w":6000,"f":0.33},{"w":6050,"f":0.35},{"w":6100,"f":0.32},{"w":6150,"f":0.34},{"w":6200,"f":0.3},{"w":6250,"f":0.32},{"w":6300,"f":0.29},{"w":6350,"f":0.3},{"w":6400,"f":0.27},{"w":6450,"f":0.29},{"w":6500,"f":0.26},{"w":6560,"f":0.27},{"w":6620,"f":0.245},{"w":6680,"f":0.26},{"w":6740,"f":0.24},{"w":6800,"f":0.25},{"w":6860,"f":0.24},{"w":6920,"f":0.27},{"w":6980,"f":0.29},{"w":7030,"f":0.24},{"w":7090,"f":0.23},{"w":7150,"f":0.235},{"w":7210,"f":0.22},{"w":7270,"f":0.23},{"w":7330,"f":0.215},{"w":7390,"f":0.225},{"w":7450,"f":0.215},{"w":7510,"f":0.225},{"w":7570,"f":0.23},{"w":7620,"f":0.26},{"w":7670,"f":0.3},{"w":7705,"f":0.4},{"w":7720,"f":1.05},{"w":7735,"f":0.35},{"w":7760,"f":0.25},{"w":7800,"f":0.21},{"w":7840,"f":0.22},{"w":7880,"f":0.19},{"w":7920,"f":0.21},{"w":7960,"f":0.18},{"w":8000,"f":0.2},{"w":8050,"f":0.17},{"w":8100,"f":0.2},{"w":8150,"f":0.165},{"w":8200,"f":0.19},{"w":8250,"f":0.16},{"w":8300,"f":0.19},{"w":8350,"f":0.16},{"w":8400,"f":0.18},{"w":8450,"f":0.155},{"w":8500,"f":0.18},{"w":8550,"f":0.15},{"w":8600,"f":0.175},{"w":8650,"f":0.15},{"w":8700,"f":0.175},{"w":8750,"f":0.145},{"w":8800,"f":0.17},{"w":8850,"f":0.145},{"w":8900,"f":0.17},{"w":8950,"f":0.14},{"w":9000,"f":0.165},{"w":9060,"f":0.14},{"w":9120,"f":0.17},{"w":9180,"f":0.14},{"w":9240,"f":0.16},{"w":9300,"f":0.135},{"w":9360,"f":0.16},{"w":9420,"f":0.14},{"w":9480,"f":0.16},{"w":9540,"f":0.13},{"w":9600,"f":0.155},{"w":9660,"f":0.13},{"w":9720,"f":0.155},{"w":9780,"f":0.135},{"w":9840,"f":0.15},{"w":9900,"f":0.14},{"w":9944,"f":0.2},{"w":9990,"f":0.15},{"w":10060,"f":0.14},{"w":10140,"f":0.15},{"w":10220,"f":0.13},{"w":10300,"f":0.145},{"w":10380,"f":0.13},{"w":10460,"f":0.14},{"w":10540,"f":0.125},{"w":10620,"f":0.14},{"w":10700,"f":0.12},{"w":10780,"f":0.135},{"w":10860,"f":0.12},{"w":10940,"f":0.13},{"w":11020,"f":0.115},{"w":11100,"f":0.13},{"w":11180,"f":0.115},{"w":11260,"f":0.125},{"w":11340,"f":0.11},{"w":11420,"f":0.125},{"w":11500,"f":0.11},{"w":11580,"f":0.13},{"w":11660,"f":0.135},{"w":11740,"f":0.11},{"w":11820,"f":0.12},{"w":11900,"f":0.11},{"w":11980,"f":0.125},{"w":12060,"f":0.105},{"w":12140,"f":0.12},{"w":12220,"f":0.105},{"w":12300,"f":0.115},{"w":12380,"f":0.1},{"w":12460,"f":0.115},{"w":12540,"f":0.105},{"w":12620,"f":0.12},{"w":12700,"f":0.15},{"w":12740,"f":0.195},{"w":12790,"f":0.135},{"w":12860,"f":0.115},{"w":12940,"f":0.105},{"w":13020,"f":0.115},{"w":13100,"f":0.1},{"w":13180,"f":0.11},{"w":13260,"f":0.095},{"w":13340,"f":0.11},{"w":13420,"f":0.1},{"w":13470,"f":0.14},{"w":13510,"f":0.06},{"w":13550,"f":0.3},{"w":13580,"f":0.02},{"w":13620,"f":0.22},{"w":13650,"f":0.0},{"w":13690,"f":0.15},{"w":13730,"f":0.05},{"w":13770,"f":0.14},{"w":13820,"f":0.07},{"w":13870,"f":0.12},{"w":13920,"f":0.09},{"w":13980,"f":0.115},{"w":14050,"f":0.095},{"w":14130,"f":0.11},{"w":14210,"f":0.095},{"w":14290,"f":0.107},{"w":14370,"f":0.095},{"w":14450,"f":0.105},{"w":14530,"f":0.095},{"w":14610,"f":0.108},{"w":14690,"f":0.095},{"w":14770,"f":0.105},{"w":14850,"f":0.1},{"w":14930,"f":0.11},{"w":15000,"f":0.12},{"w":15076,"f":0.14},{"w":15150,"f":0.11},{"w":15230,"f":0.1},{"w":15310,"f":0.108},{"w":15390,"f":0.095},{"w":15470,"f":0.105},{"w":15550,"f":0.092},{"w":15630,"f":0.103},{"w":15710,"f":0.092},{"w":15790,"f":0.102},{"w":15870,"f":0.09},{"w":15950,"f":0.1},{"w":16030,"f":0.09},{"w":16110,"f":0.1},{"w":16190,"f":0.09},{"w":16270,"f":0.1},{"w":16350,"f":0.09},{"w":16430,"f":0.1},{"w":16510,"f":0.088},{"w":16590,"f":0.098},{"w":16670,"f":0.088},{"w":16750,"f":0.098},{"w":16830,"f":0.09},{"w":16910,"f":0.1},{"w":16990,"f":0.088},{"w":17070,"f":0.098},{"w":17150,"f":0.088},{"w":17230,"f":0.098},{"w":17310,"f":0.09},{"w":17390,"f":0.1},{"w":17470,"f":0.09},{"w":17550,"f":0.1},{"w":17630,"f":0.092},{"w":17710,"f":0.105},{"w":17790,"f":0.11},{"w":17870,"f":0.125},{"w":17930,"f":0.11},{"w":17990,"f":0.15},{"w":18040,"f":0.07},{"w":18090,"f":0.17},{"w":18140,"f":0.06},{"w":18190,"f":0.15},{"w":18240,"f":0.08},{"w":18290,"f":0.17},{"w":18340,"f":0.05},{"w":18390,"f":0.14},{"w":18440,"f":0.07},{"w":18490,"f":0.16},{"w":18540,"f":0.04},{"w":18590,"f":0.13},{"w":18640,"f":0.09},{"w":18690,"f":0.12},{"w":18740,"f":0.08},{"w":18790,"f":0.11},{"w":18840,"f":0.09},{"w":18890,"f":0.13},{"w":18940,"f":0.09},{"w":18990,"f":0.2},{"w":19040,"f":0.09},{"w":19090,"f":0.13},{"w":19150,"f":0.1},{"w":19230,"f":0.11},{"w":19310,"f":0.095},{"w":19390,"f":0.107},{"w":19470,"f":0.095},{"w":19550,"f":0.107},{"w":19630,"f":0.095},{"w":19710,"f":0.105},{"w":19790,"f":0.095},{"w":19870,"f":0.105},{"w":19950,"f":0.095},{"w":20050,"f":0.105},{"w":20150,"f":0.093},{"w":20250,"f":0.104},{"w":20350,"f":0.093},{"w":20450,"f":0.104},{"w":20550,"f":0.093},{"w":20650,"f":0.103},{"w":20750,"f":0.092},{"w":20850,"f":0.103},{"w":20950,"f":0.092},{"w":21050,"f":0.102},{"w":21150,"f":0.092},{"w":21250,"f":0.102},{"w":21350,"f":0.092},{"w":21450,"f":0.101},{"w":21550,"f":0.092},{"w":21650,"f":0.101},{"w":21750,"f":0.092},{"w":21850,"f":0.101},{"w":21950,"f":0.1},{"w":22020,"f":0.115},{"w":22074,"f":0.147},{"w":22120,"f":0.11},{"w":22200,"f":0.095},{"w":22300,"f":0.1},{"w":22400,"f":0.09},{"w":22500,"f":0.1},{"w":22600,"f":0.09},{"w":22700,"f":0.098},{"w":22800,"f":0.088},{"w":22900,"f":0.098},{"w":23000,"f":0.088},{"w":23100,"f":0.097},{"w":23200,"f":0.087},{"w":23300,"f":0.097},{"w":23400,"f":0.087},{"w":23500,"f":0.095},{"w":23600,"f":0.086},{"w":23700,"f":0.096},{"w":23800,"f":0.086},{"w":23900,"f":0.095},{"w":24000,"f":0.085},{"w":24100,"f":0.097},{"w":24200,"f":0.084},{"w":24300,"f":0.096},{"w":24400,"f":0.083},{"w":24500,"f":0.098},{"w":24600,"f":0.08},{"w":24700,"f":0.1},{"w":24800,"f":0.078},{"w":24900,"f":0.102},{"w":25000,"f":0.076},{"w":25100,"f":0.105},{"w":25170,"f":0.07},{"w":25230,"f":0.11},{"w":25270,"f":0.065},{"w":25300,"f":0.24}],
    "filters": [
      {"b":"u","w":3700,"t":0.75},{"b":"u","w":3780,"t":0.6},{"b":"u","w":3830,"t":0.48},{"b":"u","w":3880,"t":0.3},{"b":"u","w":3930,"t":0.15},{"b":"u","w":3970,"t":0.06},{"b":"u","w":4010,"t":0.015},{"b":"u","w":4050,"t":0},
      {"b":"g","w":3880,"t":0},{"b":"g","w":3920,"t":0.06},{"b":"g","w":3960,"t":0.18},{"b":"g","w":4000,"t":0.3},{"b":"g","w":4040,"t":0.42},{"b":"g","w":4083,"t":0.54},{"b":"g","w":4150,"t":0.63},{"b":"g","w":4250,"t":0.71},{"b":"g","w":4333,"t":0.77},{"b":"g","w":4450,"t":0.83},{"b":"g","w":4560,"t":0.87},{"b":"g","w":4708,"t":0.9},{"b":"g","w":4800,"t":0.93},{"b":"g","w":4900,"t":0.95},{"b":"g","w":5000,"t":0.97},{"b":"g","w":5080,"t":0.99},{"b":"g","w":5150,"t":1.0},{"b":"g","w":5200,"t":0.99},{"b":"g","w":5250,"t":0.93},{"b":"g","w":5300,"t":0.8},{"b":"g","w":5340,"t":0.62},{"b":"g","w":5380,"t":0.42},{"b":"g","w":5420,"t":0.22},{"b":"g","w":5460,"t":0.08},{"b":"g","w":5500,"t":0.02},{"b":"g","w":5560,"t":0},
      {"b":"r","w":5400,"t":0},{"b":"r","w":5450,"t":0.05},{"b":"r","w":5500,"t":0.2},{"b":"r","w":5550,"t":0.45},{"b":"r","w":5600,"t":0.62},{"b":"r","w":5650,"t":0.76},{"b":"r","w":5708,"t":0.85},{"b":"r","w":5780,"t":0.9},{"b":"r","w":5875,"t":0.92},{"b":"r","w":5960,"t":0.945},{"b":"r","w":6042,"t":0.955},{"b":"r","w":6167,"t":0.96},{"b":"r","w":6250,"t":0.98},{"b":"r","w":6375,"t":0.997},{"b":"r","w":6500,"t":1.0},{"b":"r","w":6583,"t":1.0},{"b":"r","w":6640,"t":0.985},{"b":"r","w":6690,"t":0.93},{"b":"r","w":6730,"t":0.8},{"b":"r","w":6770,"t":0.6},{"b":"r","w":6810,"t":0.4},{"b":"r","w":6850,"t":0.22},{"b":"r","w":6890,"t":0.1},{"b":"r","w":6930,"t":0.03},{"b":"r","w":6980,"t":0},
      {"b":"i","w":6650,"t":0},{"b":"i","w":6720,"t":0.04},{"b":"i","w":6780,"t":0.2},{"b":"i","w":6840,"t":0.45},{"b":"i","w":6900,"t":0.7},{"b":"i","w":6960,"t":0.9},{"b":"i","w":7010,"t":0.98},{"b":"i","w":7060,"t":1.0},{"b":"i","w":7100,"t":0.97},{"b":"i","w":7150,"t":0.89},{"b":"i","w":7200,"t":0.91},{"b":"i","w":7260,"t":0.92},{"b":"i","w":7330,"t":0.92},{"b":"i","w":7420,"t":0.88},{"b":"i","w":7540,"t":0.85},{"b":"i","w":7600,"t":0.82},{"b":"i","w":7700,"t":0.78},{"b":"i","w":7780,"t":0.73},{"b":"i","w":7850,"t":0.71},{"b":"i","w":7950,"t":0.69},{"b":"i","w":8050,"t":0.68},{"b":"i","w":8130,"t":0.62},{"b":"i","w":8180,"t":0.45},{"b":"i","w":8230,"t":0.25},{"b":"i","w":8280,"t":0.1},{"b":"i","w":8330,"t":0.03},{"b":"i","w":8400,"t":0},
      {"b":"z","w":7850,"t":0},{"b":"z","w":7950,"t":0.01},{"b":"z","w":8050,"t":0.04},{"b":"z","w":8150,"t":0.1},{"b":"z","w":8213,"t":0.15},{"b":"z","w":8260,"t":0.35},{"b":"z","w":8300,"t":0.55},{"b":"z","w":8340,"t":0.68},{"b":"z","w":8400,"t":0.82},{"b":"z","w":8458,"t":0.88},{"b":"z","w":8530,"t":0.95},{"b":"z","w":8600,"t":0.99},{"b":"z","w":8650,"t":1.0},{"b":"z","w":8700,"t":0.99},{"b":"z","w":8780,"t":0.96},{"b":"z","w":8850,"t":0.9},{"b":"z","w":8920,"t":0.82},{"b":"z","w":8990,"t":0.73},{"b":"z","w":9060,"t":0.66},{"b":"z","w":9130,"t":0.63},{"b":"z","w":9190,"t":0.6},{"b":"z","w":9230,"t":0.55},{"b":"z","w":9270,"t":0.42},{"b":"z","w":9310,"t":0.36},{"b":"z","w":9400,"t":0.35},{"b":"z","w":9500,"t":0.34},{"b":"z","w":9600,"t":0.36},{"b":"z","w":9680,"t":0.35},{"b":"z","w":9750,"t":0.31},{"b":"z","w":9850,"t":0.27},{"b":"z","w":9950,"t":0.24},{"b":"z","w":10100,"t":0.19},{"b":"z","w":10300,"t":0.13},{"b":"z","w":10500,"t":0.085},{"b":"z","w":10700,"t":0.045},{"b":"z","w":10900,"t":0.015},{"b":"z","w":11100,"t":0},
      {"b":"J","w":10900,"t":0},{"b":"J","w":11000,"t":0.02},{"b":"J","w":11060,"t":0.3},{"b":"J","w":11100,"t":0.4},{"b":"J","w":11140,"t":0.25},{"b":"J","w":11180,"t":0.52},{"b":"J","w":11220,"t":0.3},{"b":"J","w":11260,"t":0.54},{"b":"J","w":11300,"t":0.2},{"b":"J","w":11340,"t":0.48},{"b":"J","w":11380,"t":0.15},{"b":"J","w":11420,"t":0.5},{"b":"J","w":11460,"t":0.22},{"b":"J","w":11500,"t":0.55},{"b":"J","w":11540,"t":0.3},{"b":"J","w":11580,"t":0.5},{"b":"J","w":11620,"t":0.4},{"b":"J","w":11660,"t":0.69},{"b":"J","w":11725,"t":0.83},{"b":"J","w":11780,"t":0.8},{"b":"J","w":11840,"t":0.84},{"b":"J","w":11894,"t":0.84},{"b":"J","w":11960,"t":0.71},{"b":"J","w":12050,"t":0.7},{"b":"J","w":12150,"t":0.71},{"b":"J","w":12190,"t":0.73},{"b":"J","w":12250,"t":0.7},{"b":"J","w":12330,"t":0.82},{"b":"J","w":12400,"t":0.95},{"b":"J","w":12450,"t":0.97},{"b":"J","w":12520,"t":0.93},{"b":"J","w":12611,"t":0.836},{"b":"J","w":12700,"t":0.72},{"b":"J","w":12780,"t":0.653},{"b":"J","w":12907,"t":0.65},{"b":"J","w":12980,"t":0.7},{"b":"J","w":13034,"t":0.81},{"b":"J","w":13090,"t":0.9},{"b":"J","w":13117,"t":0.956},{"b":"J","w":13160,"t":0.84},{"b":"J","w":13200,"t":0.93},{"b":"J","w":13226,"t":1.0},{"b":"J","w":13260,"t":0.9},{"b":"J","w":13290,"t":0.72},{"b":"J","w":13320,"t":0.95},{"b":"J","w":13350,"t":0.6},{"b":"J","w":13380,"t":0.3},{"b":"J","w":13420,"t":0.27},{"b":"J","w":13450,"t":0.08},{"b":"J","w":13500,"t":0.02},{"b":"J","w":13540,"t":0.06},{"b":"J","w":13580,"t":0.0},{"b":"J","w":13620,"t":0.05},{"b":"J","w":13660,"t":0.0},{"b":"J","w":13720,"t":0.04},{"b":"J","w":13780,"t":0.0},{"b":"J","w":13850,"t":0.03},{"b":"J","w":13920,"t":0.0},{"b":"J","w":14000,"t":0.02},{"b":"J","w":14080,"t":0},
      {"b":"H","w":14700,"t":0},{"b":"H","w":14800,"t":0.02},{"b":"H","w":14900,"t":0.07},{"b":"H","w":15000,"t":0.17},{"b":"H","w":15080,"t":0.3},{"b":"H","w":15167,"t":0.47},{"b":"H","w":15270,"t":0.68},{"b":"H","w":15375,"t":0.81},{"b":"H","w":15460,"t":0.9},{"b":"H","w":15542,"t":0.928},{"b":"H","w":15620,"t":0.93},{"b":"H","w":15667,"t":0.93},{"b":"H","w":15730,"t":0.89},{"b":"H","w":15792,"t":0.86},{"b":"H","w":15850,"t":0.9},{"b":"H","w":15917,"t":0.915},{"b":"H","w":15980,"t":0.9},{"b":"H","w":16042,"t":0.92},{"b":"H","w":16150,"t":0.915},{"b":"H","w":16250,"t":0.92},{"b":"H","w":16375,"t":0.936},{"b":"H","w":16500,"t":0.96},{"b":"H","w":16600,"t":0.99},{"b":"H","w":16667,"t":1.0},{"b":"H","w":16730,"t":0.99},{"b":"H","w":16792,"t":0.98},{"b":"H","w":16917,"t":0.95},{"b":"H","w":17042,"t":0.93},{"b":"H","w":17100,"t":0.95},{"b":"H","w":17167,"t":0.98},{"b":"H","w":17292,"t":0.995},{"b":"H","w":17400,"t":0.99},{"b":"H","w":17458,"t":0.985},{"b":"H","w":17530,"t":0.95},{"b":"H","w":17583,"t":0.92},{"b":"H","w":17667,"t":0.78},{"b":"H","w":17750,"t":0.63},{"b":"H","w":17810,"t":0.47},{"b":"H","w":17850,"t":0.3},{"b":"H","w":17880,"t":0.42},{"b":"H","w":17900,"t":0.26},{"b":"H","w":17950,"t":0.2},{"b":"H","w":18000,"t":0.12},{"b":"H","w":18060,"t":0.05},{"b":"H","w":18120,"t":0.015},{"b":"H","w":18200,"t":0},
      {"b":"Ks","w":19400,"t":0},{"b":"Ks","w":19550,"t":0.02},{"b":"Ks","w":19650,"t":0.07},{"b":"Ks","w":19750,"t":0.14},{"b":"Ks","w":19850,"t":0.22},{"b":"Ks","w":19900,"t":0.3},{"b":"Ks","w":19950,"t":0.28},{"b":"Ks","w":20050,"t":0.36},{"b":"Ks","w":20150,"t":0.45},{"b":"Ks","w":20220,"t":0.55},{"b":"Ks","w":20300,"t":0.72},{"b":"Ks","w":20350,"t":0.77},{"b":"Ks","w":20450,"t":0.74},{"b":"Ks","w":20530,"t":0.67},{"b":"Ks","w":20581,"t":0.63},{"b":"Ks","w":20665,"t":0.71},{"b":"Ks","w":20750,"t":0.74},{"b":"Ks","w":20852,"t":0.82},{"b":"Ks","w":20960,"t":0.825},{"b":"Ks","w":21045,"t":0.876},{"b":"Ks","w":21130,"t":0.88},{"b":"Ks","w":21257,"t":0.908},{"b":"Ks","w":21425,"t":0.93},{"b":"Ks","w":21552,"t":0.925},{"b":"Ks","w":21636,"t":0.91},{"b":"Ks","w":21720,"t":0.91},{"b":"Ks","w":21790,"t":0.87},{"b":"Ks","w":21830,"t":0.846},{"b":"Ks","w":21880,"t":0.9},{"b":"Ks","w":21931,"t":0.94},{"b":"Ks","w":22020,"t":0.97},{"b":"Ks","w":22100,"t":0.99},{"b":"Ks","w":22226,"t":0.985},{"b":"Ks","w":22310,"t":0.975},{"b":"Ks","w":22436,"t":0.98},{"b":"Ks","w":22520,"t":0.97},{"b":"Ks","w":22606,"t":1.0},{"b":"Ks","w":22650,"t":0.96},{"b":"Ks","w":22690,"t":0.98},{"b":"Ks","w":22774,"t":0.96},{"b":"Ks","w":22816,"t":0.9},{"b":"Ks","w":22858,"t":0.82},{"b":"Ks","w":22925,"t":0.58},{"b":"Ks","w":23000,"t":0.47},{"b":"Ks","w":23100,"t":0.33},{"b":"Ks","w":23200,"t":0.2},{"b":"Ks","w":23300,"t":0.1},{"b":"Ks","w":23400,"t":0.04},{"b":"Ks","w":23500,"t":0.01},{"b":"Ks","w":23650,"t":0}
    ],
    "stars2": [{"tipo":"catálogo","w":4750,"f":0.407},{"tipo":"catálogo","w":6200,"f":0.256},{"tipo":"catálogo","w":7560,"f":0.216},{"tipo":"catálogo","w":9000,"f":0.145},{"tipo":"catálogo","w":12450,"f":0.32},{"tipo":"catálogo","w":16550,"f":0.442},{"tipo":"catálogo","w":21675,"f":0.758},{"tipo":"calculada","w":4750,"f":0.496},{"tipo":"calculada","w":6200,"f":0.3},{"tipo":"calculada","w":7510,"f":0.246},{"tipo":"calculada","w":9000,"f":0.157},{"tipo":"calculada","w":12450,"f":0.073},{"tipo":"calculada","w":16550,"f":0.06},{"tipo":"calculada","w":21675,"f":0.058}],
    "stars3": [{"tipo":"catálogo","w":4670,"f":0.42},{"tipo":"catálogo","w":6158,"f":0.262},{"tipo":"catálogo","w":7474,"f":0.221},{"tipo":"catálogo","w":8917,"f":0.152},{"tipo":"catálogo","w":12383,"f":0.326},{"tipo":"catálogo","w":16482,"f":0.451},{"tipo":"catálogo","w":21645,"f":0.773},{"tipo":"calculada","w":4670,"f":0.503},{"tipo":"calculada","w":6158,"f":0.31},{"tipo":"calculada","w":7450,"f":0.25},{"tipo":"calculada","w":8943,"f":0.16},{"tipo":"calculada","w":12383,"f":0.073},{"tipo":"calculada","w":16482,"f":0.061},{"tipo":"calculada","w":21645,"f":0.061}]
  }
}
